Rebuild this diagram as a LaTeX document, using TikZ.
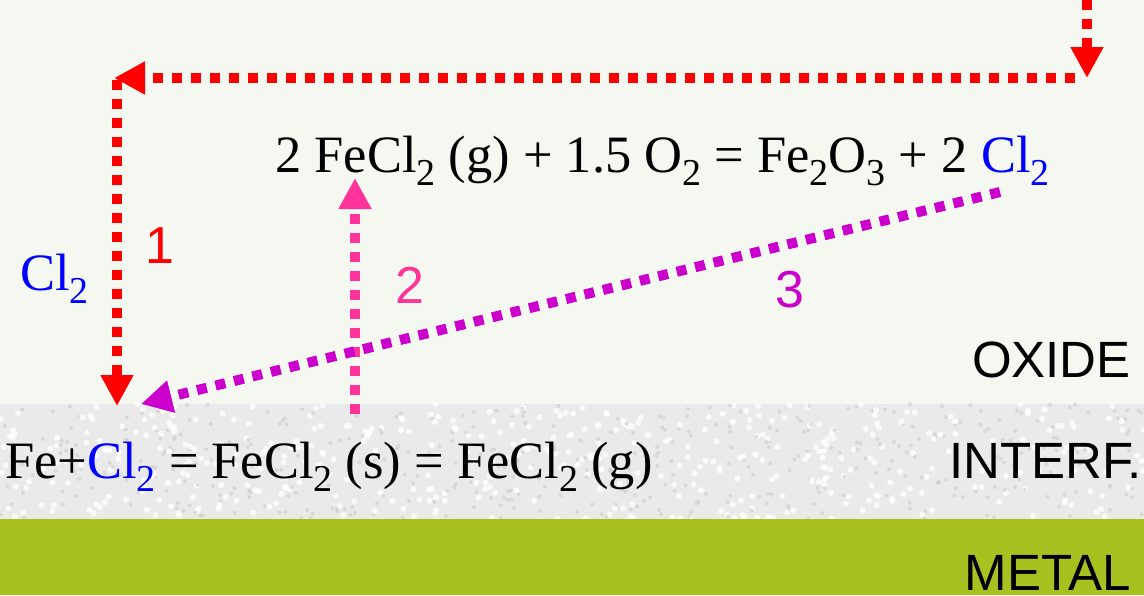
\documentclass[tikz,border=0pt]{standalone}
\usepackage{fontspec}
\setmainfont{Liberation Serif}
\newfontfamily\lsans{Liberation Sans}
\usetikzlibrary{arrows.meta}
\definecolor{oxbg}{RGB}{244,248,240}
\definecolor{ifbg}{RGB}{234,234,234}
\definecolor{metbg}{RGB}{168,192,32}
\definecolor{pinkc}{RGB}{255,51,153}
\definecolor{magc}{RGB}{204,0,204}
\newcommand{\sbs}[1]{\raisebox{-0.26em}{\fontsize{38}{38}\selectfont #1}}
\tikzset{
  eq/.style={anchor=base west, inner sep=0pt, font=\fontsize{52.5}{60}\selectfont},
  lay/.style={anchor=base east, inner sep=0pt, font=\lsans\fontsize{51}{60}\selectfont},
  num/.style={anchor=base, inner sep=0pt, font=\lsans\fontsize{52}{60}\selectfont},
  flow/.style={line width=10pt, dash pattern=on 10pt off 9pt, -{Triangle[length=31pt,width=31pt]}}
}
\begin{document}
\begin{tikzpicture}[x=1pt,y=-1pt]
\useasboundingbox (0,0) rectangle (1144,595);
\fill[oxbg] (0,0) rectangle (1144,404);
\fill[ifbg] (0,404) rectangle (1144,519);
\pgfmathsetseed{7}
\foreach \i in {1,...,900}{
  \pgfmathsetmacro{\px}{rnd*1144}
  \pgfmathsetmacro{\py}{404+rnd*115}
  \pgfmathsetmacro{\pc}{rnd>0.5 ? 1 : 0}
  \ifdim\pc pt>0.5pt
    \fill[white, opacity=0.8] (\px,\py) circle (3pt);
  \else
    \fill[black!20, opacity=0.6] (\px,\py) circle (2pt);
  \fi
}
\fill[metbg] (0,519) rectangle (1144,595);

% texts
\node[eq] (top) at (275,172) {2 FeCl\sbs{2} (g) + 1.5 O\sbs{2} = Fe\sbs{2}O\sbs{3} + 2 \textcolor{blue}{Cl\sbs{2}}};
\node[eq] (bot) at (5,478) {Fe+\textcolor{blue}{Cl\sbs{2}} = FeCl\sbs{2} (s) = FeCl\sbs{2} (g)};
\node[eq, text=blue] (cl) at (20,290) {Cl\sbs{2}};
\node[num, text=red] (n1) at (160,263) {1};
\node[num, text=pinkc] (n2) at (410,303) {2};
\node[num, text=magc] (n3) at (790,307) {3};
\node[lay] (ox) at (1131,377) {OXIDE};
\node[lay] (itf) at (1142,478) {INTERF.};
\node[lay] (met) at (1131,590) {METAL};

% connector points
\coordinate (r0) at (1087,0);
\coordinate (r1) at (1087,78);
\coordinate (r1b) at (1075,78);
\coordinate (r2) at (114,78);
\coordinate (r3) at (117,80);
\coordinate (r4) at (117,406);
\coordinate (p0) at (355,414);
\coordinate (p1) at (355,178);
\coordinate (m0) at (1000,192);
\coordinate (m1) at (141,404);

\draw[flow, red] (r0) -- (r1);
\draw[flow, red] (r1b) -- (r2);
\draw[flow, red] (r3) -- (r4);
\draw[flow, pinkc] (p0) -- (p1);
\draw[flow, magc] (m0) -- (m1);
\end{tikzpicture}
\end{document}
